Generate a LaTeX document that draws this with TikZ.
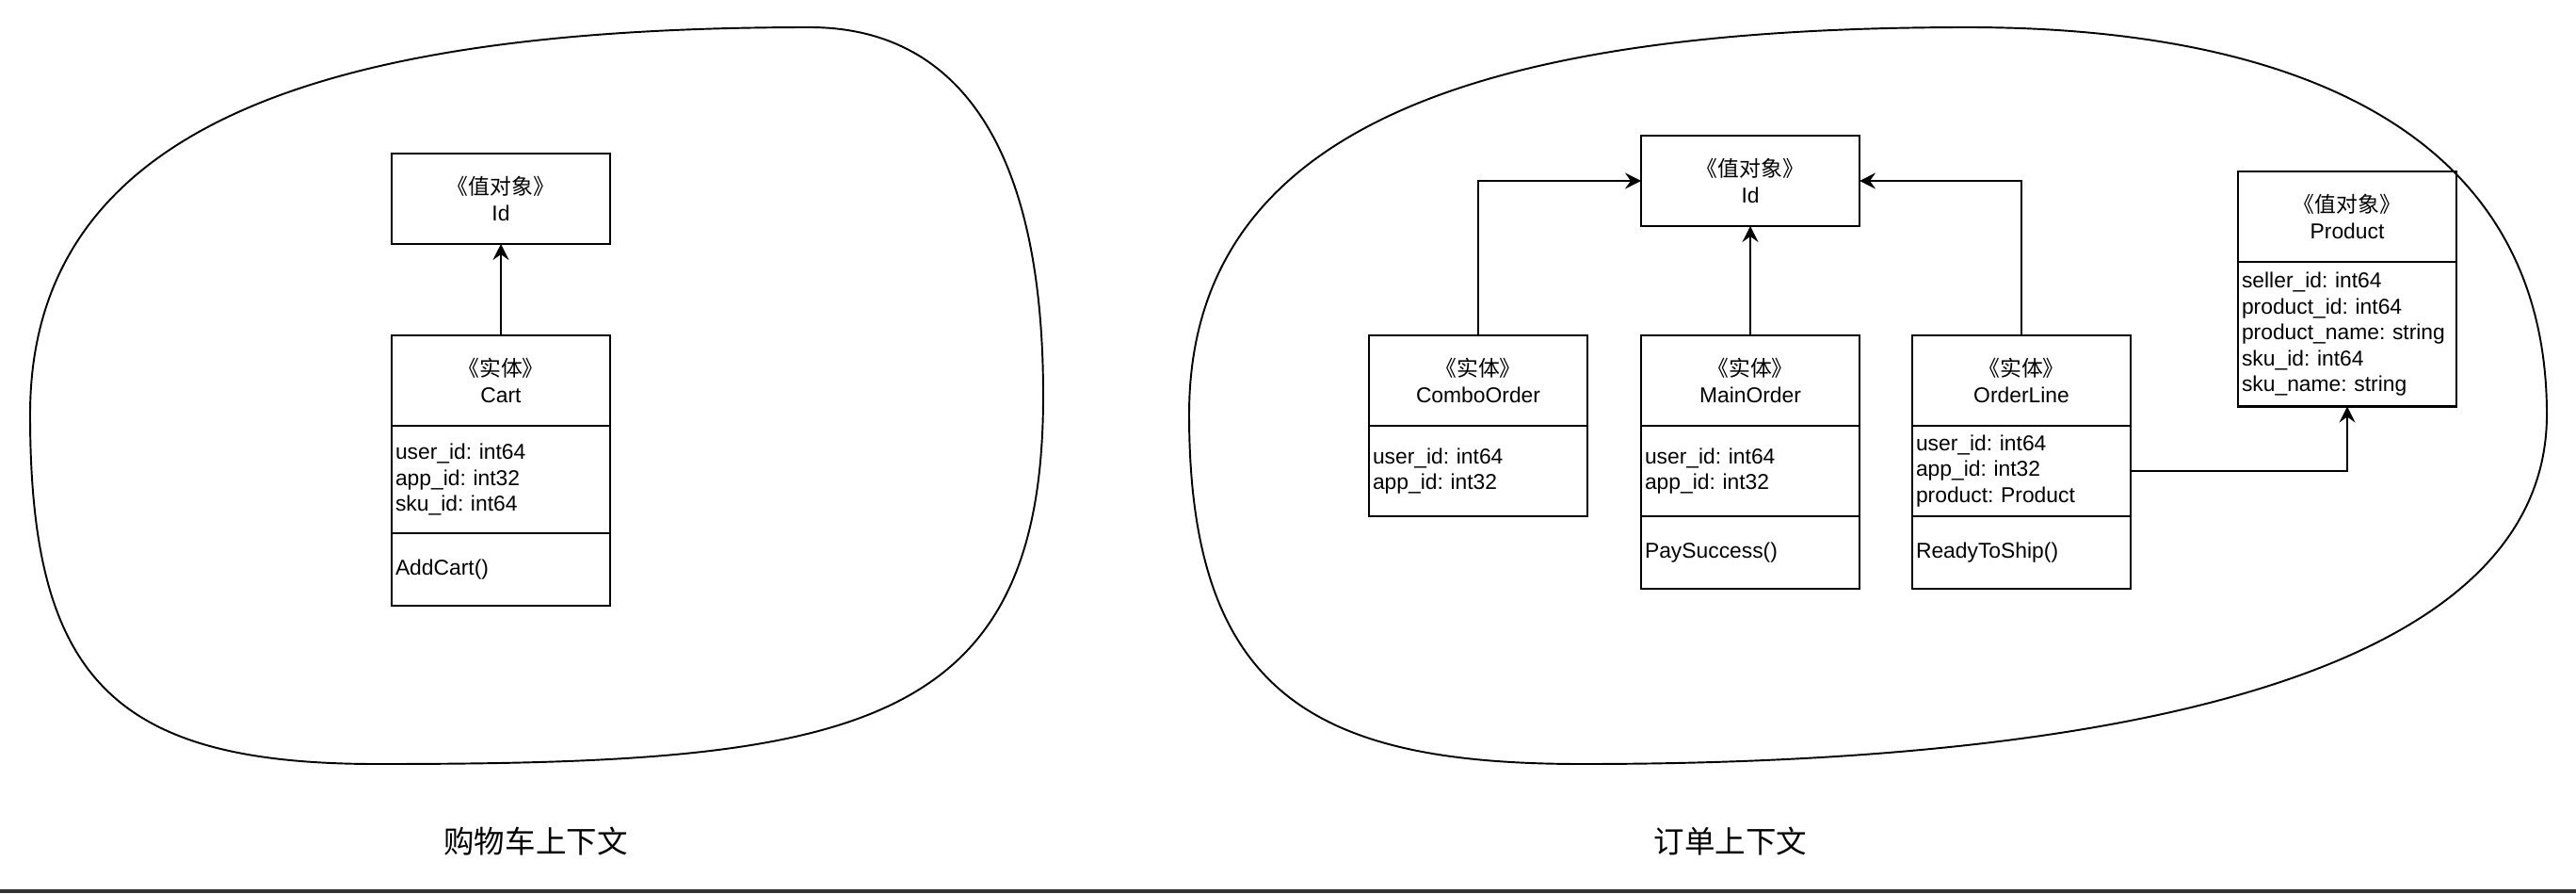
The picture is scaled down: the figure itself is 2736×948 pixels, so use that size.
\documentclass[tikz,border=0pt]{standalone}
\usepackage{fontspec}
\setmainfont{Liberation Sans}
\newfontfamily\cjk{Noto Sans CJK SC}
\usetikzlibrary{arrows.meta,positioning}
\definecolor{bandcolor}{HTML}{333333}
\frenchspacing

\begin{document}
\begin{tikzpicture}[x=0.2mm, y=-0.2mm,
  font=\fontsize{13pt}{15.6pt}\selectfont,
  head/.style={draw, line width=1.2pt, minimum width=46.4mm, minimum height=19.2mm,
    inner sep=0pt, outer sep=0pt, align=center, anchor=north west},
  part/.style={draw, line width=1.2pt, text width=44.8mm, inner xsep=0.8mm,
    inner ysep=0pt, outer sep=0pt, align=left, minimum height=#1},
  arr/.style={-{Stealth[length=3.4mm,width=3.4mm,inset=1.2mm]}, line width=1.1pt},
  ctx/.style={line width=1.1pt},
  ctxlabel/.style={font=\cjk\fontsize{18.5pt}{22pt}\selectfont}]
  \useasboundingbox (0,0) rectangle (2736,948);
  % bottom band
  \fill[bandcolor] (0,944) rectangle (2736,948);

  % Cart context
  \draw[ctx] (32,440) .. controls (32,130) and (350,29) .. (860,29)
    .. controls (1000,29) and (1108,130) .. (1108,420)
    .. controls (1108,780) and (900,811) .. (400,811)
    .. controls (120,811) and (32,720) .. cycle;
  \node[head] (cartid) at (416,163) {{\cjk 《值对象》}\\Id};
  \node[head] (carth) at (416,356) {{\cjk 《实体》}\\Cart};
  \node[part=22.8mm, below=0pt of carth] (carta) {user\_id: int64\\app\_id: int32\\sku\_id: int64};
  \node[part=15.4mm, below=0pt of carta] (cartm) {AddCart()};
  \draw[arr] (carth.north) -- (cartid.south);
  \node[ctxlabel] (cartctx) at (569,893) {购物车上下文};

  % Order context
  \draw[ctx] (1263,440) .. controls (1263,130) and (1581,29) .. (2090,29)
    .. controls (2420,29) and (2705,130) .. (2705,440)
    .. controls (2705,700) and (2300,811) .. (1680,811)
    .. controls (1400,811) and (1263,740) .. cycle;
  \node[head] (orderid) at (1743,144) {{\cjk 《值对象》}\\Id};
  \node[head] (comboh) at (1454,356) {{\cjk 《实体》}\\ComboOrder};
  \node[part=19.2mm, below=0pt of comboh] (comboa) {user\_id: int64\\app\_id: int32};
  \node[head] (mainh) at (1743,356) {{\cjk 《实体》}\\MainOrder};
  \node[part=19.2mm, below=0pt of mainh] (maina) {user\_id: int64\\app\_id: int32};
  \node[part=15.4mm, below=0pt of maina] (mainm) {PaySuccess()};
  \node[head] (lineh) at (2031,356) {{\cjk 《实体》}\\OrderLine};
  \node[part=19.2mm, below=0pt of lineh] (linea) {user\_id: int64\\app\_id: int32\\product: Product};
  \node[part=15.4mm, below=0pt of linea] (linem) {ReadyToShip()};
  \node[head] (prodh) at (2377,182) {{\cjk 《值对象》}\\Product};
  \node[part=30.7mm, below=0pt of prodh] (proda) {seller\_id: int64\\product\_id: int64\\product\_name: string\\sku\_id: int64\\sku\_name: string};
  \draw[arr] (comboh.north) |- (orderid.west);
  \draw[arr] (mainh.north) -- (orderid.south);
  \draw[arr] (lineh.north) |- (orderid.east);
  \draw[arr] (linea.east) -| (proda.south);
  \node[ctxlabel] (orderctx) at (1838,893) {订单上下文};
\end{tikzpicture}
\end{document}
